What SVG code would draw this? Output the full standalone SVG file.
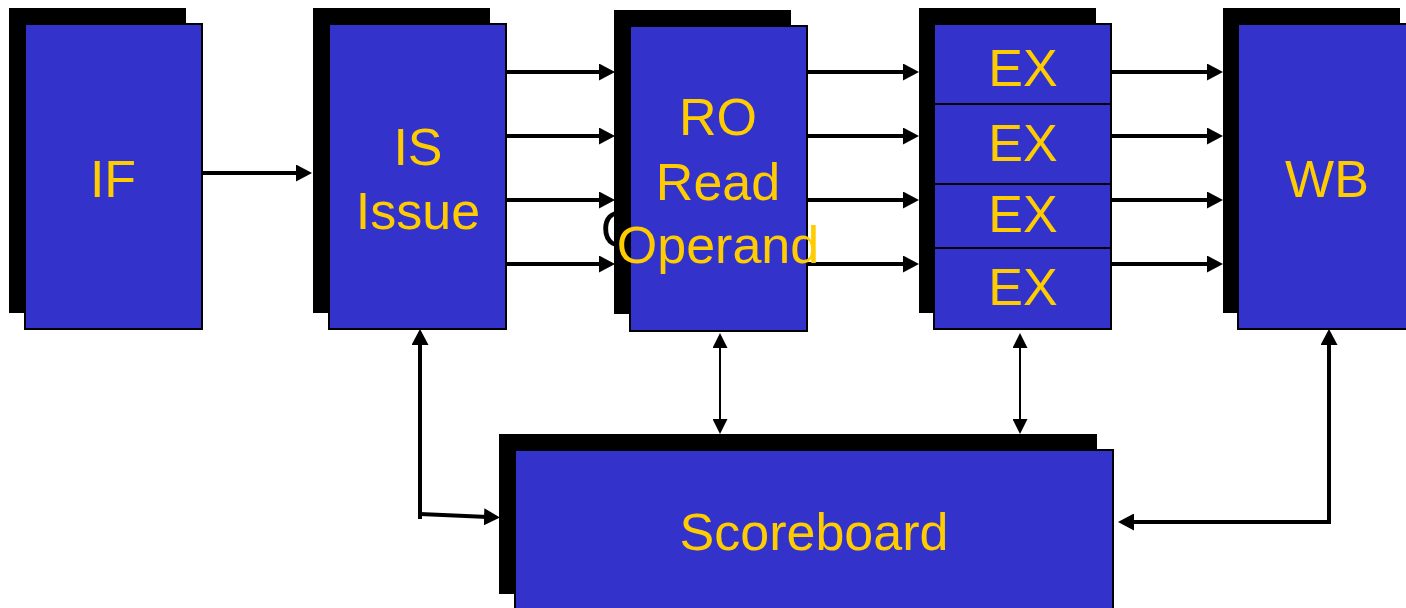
<svg xmlns="http://www.w3.org/2000/svg" width="1406" height="608" viewBox="0 0 1406 608">
<style>
.sh{fill:#000}
.bx{fill:#3333CC;stroke:#000;stroke-width:2}
.t{font-family:"Liberation Sans",Arial,sans-serif;font-size:52px;fill:#FFCC00;text-anchor:middle}
.tb{font-family:"Liberation Sans",Arial,sans-serif;font-size:52px;fill:#000;text-anchor:middle}
.th{stroke:#000;stroke-width:4;fill:none}
.tn{stroke:#000;stroke-width:2;fill:none}
</style>
<defs>
<marker id="ah" markerUnits="userSpaceOnUse" markerWidth="16" markerHeight="17" refX="4" refY="8.5" orient="auto">
<path d="M0,0 L16,8.5 L0,17 z" fill="#000"/>
</marker>
<marker id="an" markerUnits="userSpaceOnUse" markerWidth="15" markerHeight="15" refX="3" refY="7.5" orient="auto-start-reverse">
<path d="M0,0 L15,7.5 L0,15 z" fill="#000"/>
</marker>
</defs>
<rect width="1406" height="608" fill="#fff"/>
<g id="connectors">
<line class="th" x1="202" y1="173" x2="300" y2="173" marker-end="url(#ah)"/>
<line class="th" x1="507" y1="72" x2="603" y2="72" marker-end="url(#ah)"/>
<line class="th" x1="507" y1="136" x2="603" y2="136" marker-end="url(#ah)"/>
<line class="th" x1="507" y1="200" x2="603" y2="200" marker-end="url(#ah)"/>
<line class="th" x1="507" y1="264" x2="603" y2="264" marker-end="url(#ah)"/>
<line class="th" x1="808" y1="72" x2="907" y2="72" marker-end="url(#ah)"/>
<line class="th" x1="808" y1="136" x2="907" y2="136" marker-end="url(#ah)"/>
<line class="th" x1="808" y1="200" x2="907" y2="200" marker-end="url(#ah)"/>
<line class="th" x1="808" y1="264" x2="907" y2="264" marker-end="url(#ah)"/>
<line class="th" x1="1112" y1="72" x2="1211" y2="72" marker-end="url(#ah)"/>
<line class="th" x1="1112" y1="136" x2="1211" y2="136" marker-end="url(#ah)"/>
<line class="th" x1="1112" y1="200" x2="1211" y2="200" marker-end="url(#ah)"/>
<line class="th" x1="1112" y1="264" x2="1211" y2="264" marker-end="url(#ah)"/>
<line class="th" x1="420" y1="519" x2="420" y2="341" marker-end="url(#ah)"/>
<line class="th" x1="420" y1="514" x2="488" y2="517" marker-end="url(#ah)"/>
<line class="tn" x1="720" y1="345" x2="720" y2="422" marker-start="url(#an)" marker-end="url(#an)"/>
<line class="tn" x1="1020" y1="345" x2="1020" y2="422" marker-start="url(#an)" marker-end="url(#an)"/>
<line class="th" x1="1329" y1="524" x2="1329" y2="341" marker-end="url(#ah)"/>
<line class="th" x1="1331" y1="522" x2="1130" y2="522" marker-end="url(#ah)"/>
</g>
<g id="node-if">
<rect class="sh" x="9" y="8" width="177" height="305"/>
<rect class="bx" x="25" y="24" width="177" height="305"/>
<text class="t" x="113" y="197">IF</text>
</g>
<g id="node-is">
<rect class="sh" x="313" y="8" width="177" height="305"/>
<rect class="bx" x="329" y="24" width="177" height="305"/>
<text class="t" x="418" y="165">IS</text>
<text class="t" x="418" y="229">Issue</text>
</g>
<g id="node-ro">
<text class="tb" x="702" y="247">Operand</text>
<rect class="sh" x="614" y="10" width="177" height="304"/>
<rect class="bx" x="630" y="26" width="177" height="305"/>
<text class="t" x="718" y="135">RO</text>
<text class="t" x="718" y="200">Read</text>
<text class="t" x="718" y="263">Operand</text>
</g>
<g id="node-ex">
<rect class="sh" x="919" y="8" width="177" height="305"/>
<rect class="bx" x="934" y="24" width="177" height="80"/>
<rect class="bx" x="934" y="104" width="177" height="80"/>
<rect class="bx" x="934" y="184" width="177" height="64"/>
<rect class="bx" x="934" y="248" width="177" height="81"/>
<text class="t" x="1023" y="86">EX</text>
<text class="t" x="1023" y="161">EX</text>
<text class="t" x="1023" y="232">EX</text>
<text class="t" x="1023" y="305">EX</text>
</g>
<g id="node-wb">
<rect class="sh" x="1223" y="8" width="177" height="305"/>
<rect class="bx" x="1238" y="24" width="177" height="305"/>
<text class="t" x="1327" y="197">WB</text>
</g>
<g id="node-scoreboard">
<rect class="sh" x="499" y="434" width="598" height="160"/>
<rect class="bx" x="515" y="450" width="598" height="170"/>
<text class="t" x="814" y="550">Scoreboard</text>
</g>
</svg>
